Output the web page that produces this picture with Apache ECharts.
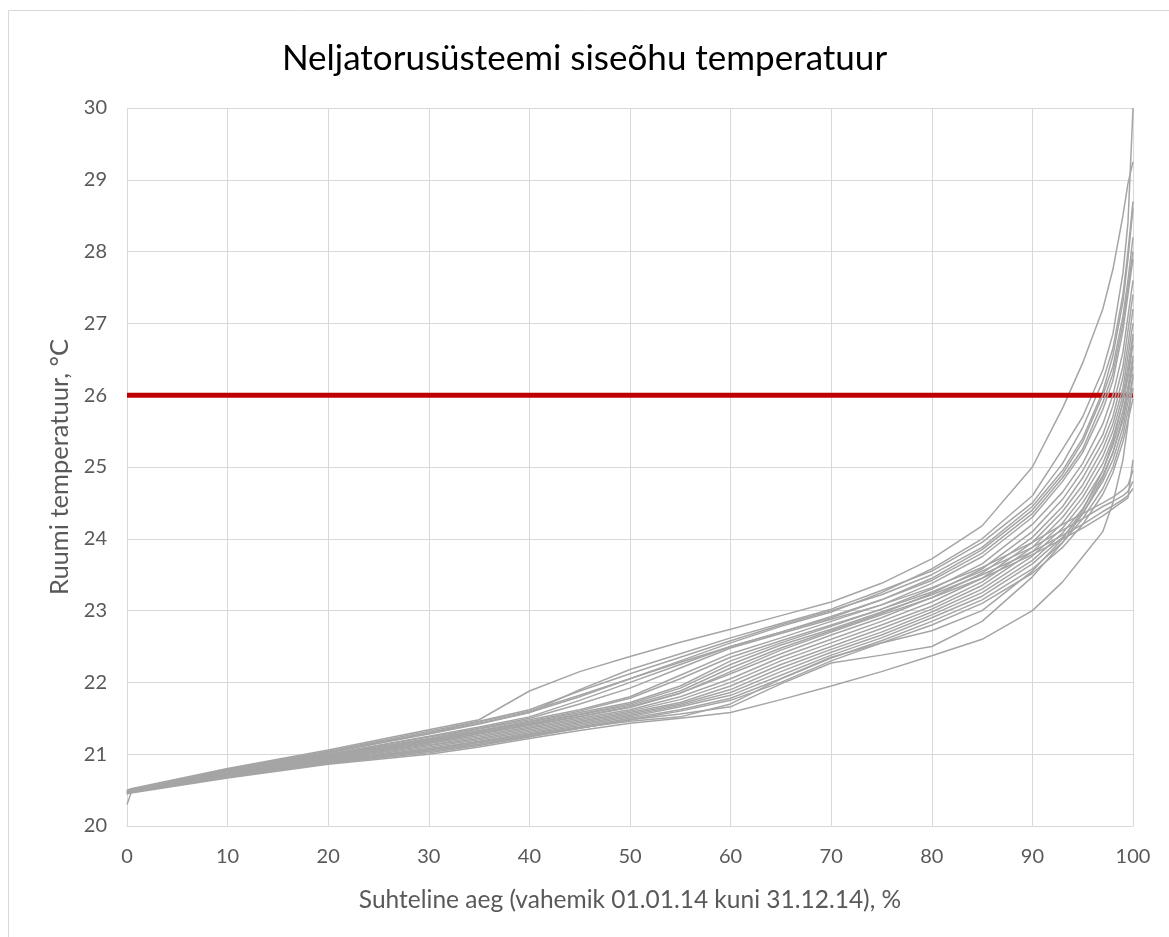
<!DOCTYPE html>
<html>
<head>
<meta charset="utf-8">
<script src="https://cdn.jsdelivr.net/npm/echarts@6/dist/echarts.min.js"></script>
<style>
  html, body { margin: 0; padding: 0; background: #ffffff; }
  #chart { width: 1169px; height: 937px; }
</style>
</head>
<body>
<div id="chart"></div>
<script>
// Relative time, % of the period 01.01.14 – 31.12.14
const xPct = [0, 0.4, 10, 20, 30, 35, 40, 45, 50, 55, 60, 65, 70, 75, 80, 85, 90, 93, 95, 97, 98, 99, 99.5, 100];

// Sorted indoor temperature curves (°C), one per room
const room01 = [20.50,20.52,20.80,21.06,21.34,21.48,21.88,22.15,22.36,22.56,22.74,22.93,23.12,23.38,23.72,24.18,25.00,25.82,26.45,27.20,27.75,28.50,28.95,29.25];
const room02 = [20.49,20.51,20.79,21.03,21.30,21.45,21.60,21.82,22.05,22.30,22.55,22.78,22.98,23.25,23.58,24.00,24.60,25.25,25.70,26.35,26.85,27.70,28.40,30.00];
const room03 = [20.48,20.51,20.78,21.02,21.28,21.42,21.58,21.90,22.18,22.40,22.62,22.82,23.02,23.28,23.55,23.95,24.50,25.05,25.55,26.20,26.65,27.40,28.00,28.70];
const room04 = [20.48,20.50,20.77,21.00,21.25,21.38,21.52,21.75,22.00,22.25,22.50,22.70,22.90,23.15,23.45,23.85,24.40,24.90,25.35,26.00,26.40,27.10,27.60,28.20];
const room05 = [20.47,20.50,20.76,20.99,21.22,21.35,21.48,21.62,21.80,22.10,22.40,22.62,22.85,23.08,23.38,23.75,24.30,24.80,25.20,25.80,26.20,26.90,27.40,27.90];
const room06 = [20.47,20.49,20.75,20.97,21.20,21.32,21.45,21.58,21.72,21.95,22.30,22.55,22.78,23.02,23.30,23.65,24.20,24.65,25.05,25.60,26.00,26.60,27.10,27.60];
const room07 = [20.47,20.49,20.75,20.96,21.18,21.30,21.42,21.55,21.68,21.88,22.20,22.48,22.72,22.96,23.24,23.58,24.10,24.55,24.95,25.45,25.85,26.40,26.90,27.40];
const room08 = [20.46,20.49,20.74,20.95,21.16,21.28,21.40,21.52,21.65,21.85,22.12,22.40,22.66,22.90,23.18,23.52,24.02,24.45,24.85,25.35,25.70,26.25,26.70,27.20];
const room09 = [20.46,20.48,20.74,20.94,21.15,21.26,21.38,21.50,21.62,21.80,22.05,22.35,22.60,22.85,23.12,23.45,23.95,24.38,24.75,25.25,25.60,26.10,26.55,27.00];
const room10 = [20.46,20.48,20.73,20.93,21.13,21.24,21.36,21.48,21.60,21.76,22.00,22.30,22.55,22.80,23.06,23.40,23.88,24.30,24.66,25.15,25.50,26.00,26.40,26.85];
const room11 = [20.46,20.48,20.73,20.92,21.12,21.22,21.34,21.46,21.58,21.72,21.95,22.25,22.50,22.75,23.02,23.35,23.82,24.22,24.58,25.05,25.40,25.90,26.25,26.70];
const room12 = [20.45,20.48,20.72,20.91,21.10,21.20,21.32,21.44,21.56,21.70,21.90,22.20,22.46,22.70,22.98,23.30,23.76,24.15,24.50,24.95,25.30,25.78,26.12,26.55];
const room13 = [20.45,20.47,20.72,20.90,21.08,21.18,21.30,21.42,21.54,21.68,21.86,22.15,22.42,22.66,22.94,23.25,23.70,24.08,24.42,24.88,25.20,25.65,26.00,26.40];
const room14 = [20.45,20.47,20.71,20.90,21.07,21.17,21.28,21.40,21.52,21.66,21.82,22.10,22.38,22.62,22.90,23.20,23.65,24.02,24.35,24.80,25.10,25.55,25.90,26.25];
const room15 = [20.45,20.47,20.71,20.89,21.06,21.16,21.27,21.38,21.50,21.62,21.78,22.05,22.34,22.58,22.85,23.15,23.58,23.95,24.28,24.70,25.00,25.45,25.78,26.10];
const room16 = [20.45,20.47,20.70,20.88,21.04,21.14,21.25,21.36,21.48,21.60,21.75,22.00,22.30,22.55,22.80,23.10,23.52,23.88,24.20,24.62,24.92,25.35,25.65,25.95];
const room17 = [20.48,20.50,20.77,21.00,21.24,21.36,21.50,21.70,21.92,22.20,22.48,22.68,22.88,23.08,23.32,23.60,23.95,24.20,24.35,24.50,24.58,24.68,24.75,24.95];
const room18 = [20.47,20.50,20.76,20.98,21.21,21.33,21.46,21.60,21.78,22.05,22.35,22.58,22.80,23.02,23.26,23.55,23.88,24.12,24.28,24.45,24.52,24.60,24.66,24.80];
const room19 = [20.47,20.49,20.75,20.97,21.19,21.31,21.43,21.56,21.70,21.92,22.25,22.52,22.74,22.98,23.22,23.50,23.82,24.05,24.20,24.38,24.46,24.55,24.60,24.70];
const room20 = [20.46,20.49,20.74,20.95,21.17,21.29,21.41,21.53,21.66,21.85,22.15,22.45,22.70,22.94,23.18,23.45,23.78,24.00,24.15,24.32,24.42,24.52,24.57,25.10];
const room21 = [20.30,20.46,20.67,20.86,21.00,21.10,21.22,21.33,21.43,21.50,21.58,21.76,21.95,22.15,22.37,22.60,23.00,23.40,23.75,24.10,24.50,25.10,25.60,26.30];
const room22 = [20.45,20.47,20.68,20.87,21.02,21.12,21.24,21.36,21.48,21.56,21.66,21.98,22.27,22.38,22.50,22.85,23.47,23.95,24.35,24.85,25.20,25.70,26.05,26.50];
const room23 = [20.46,20.48,20.69,20.88,21.04,21.14,21.26,21.37,21.46,21.52,21.70,22.05,22.35,22.55,22.72,23.00,23.55,24.00,24.40,24.95,25.35,25.90,26.30,26.80];
const room24 = [20.49,20.51,20.79,21.04,21.32,21.46,21.62,21.88,22.12,22.35,22.58,22.80,23.00,23.22,23.50,23.88,24.45,24.95,25.40,26.05,26.55,27.30,27.90,28.60];
const room25 = [20.48,20.51,20.78,21.02,21.29,21.43,21.58,21.80,22.05,22.28,22.50,22.70,22.92,23.15,23.42,23.80,24.35,24.85,25.25,25.90,26.30,27.00,27.50,28.00];

// Upper comfort limit, °C
const limitX = [0, 100];
const limitY = [26, 26];

const xTicks = [0, 10, 20, 30, 40, 50, 60, 70, 80, 90, 100];
const yTicks = [20, 21, 22, 23, 24, 25, 26, 27, 28, 29, 30];

const roomsBelow = [room01, room02, room03, room24];
const roomsAbove = [room04, room05, room06, room07, room08, room09, room10, room11, room12, room13,
  room14, room15, room16, room17, room18, room19, room20, room21, room22, room23, room25];

const FONT = 'Lato, "Open Sans", sans-serif';
const GRID_COLOR = '#d9d9d9';
const TEXT_COLOR = '#595959';

function roomSeries(values, i) {
  return {
    type: 'line',
    name: 'Ruum ' + (i + 1),
    data: xPct.map((x, k) => [x, values[k]]),
    showSymbol: false,
    symbol: 'none',
    silent: true,
    lineStyle: { color: '#a5a5a5', width: 1.5 },
    z: 3
  };
}

const series = [];
roomsBelow.forEach((r, i) => series.push(roomSeries(r, i)));
series.push({
  type: 'line',
  name: '26 °C',
  data: limitX.map((x, k) => [x, limitY[k]]),
  showSymbol: false,
  symbol: 'none',
  silent: true,
  lineStyle: { color: '#c00000', width: 5 },
  z: 3
});
roomsAbove.forEach((r, i) => series.push(roomSeries(r, i + roomsBelow.length)));

const chart = echarts.init(document.getElementById('chart'), null, { renderer: 'canvas' });
chart.setOption({
  animation: false,
  backgroundColor: '#ffffff',
  title: {
    text: 'Neljatorusüsteemi siseõhu temperatuur',
    left: 'center',
    top: 36,
    textStyle: { fontFamily: FONT, fontSize: 35, fontWeight: 'normal', color: '#000000' }
  },
  graphic: [{
    type: 'rect',
    shape: { x: 8.5, y: 10.5, width: 1200, height: 1000 },
    style: { fill: 'none', stroke: GRID_COLOR, lineWidth: 1 },
    silent: true,
    z: 0
  }],
  grid: { left: 127, right: 36, top: 108, bottom: 111, containLabel: false },
  xAxis: {
    type: 'value',
    min: xTicks[0],
    max: xTicks[xTicks.length - 1],
    interval: 10,
    name: 'Suhteline aeg (vahemik 01.01.14 kuni 31.12.14), %',
    nameLocation: 'middle',
    nameGap: 62,
    nameTextStyle: { fontFamily: FONT, fontSize: 24.5, color: TEXT_COLOR },
    axisLine: { show: true, lineStyle: { color: GRID_COLOR, width: 1 } },
    axisTick: { show: false },
    axisLabel: { fontFamily: FONT, fontSize: 20, color: TEXT_COLOR, margin: 21 },
    splitLine: { show: true, lineStyle: { color: GRID_COLOR, width: 1 } }
  },
  yAxis: {
    type: 'value',
    min: yTicks[0],
    max: yTicks[yTicks.length - 1],
    interval: 1,
    name: 'Ruumi temperatuur, °C',
    nameLocation: 'middle',
    nameGap: 52,
    nameTextStyle: { fontFamily: FONT, fontSize: 25.5, color: TEXT_COLOR },
    axisLine: { show: false },
    axisTick: { show: false },
    axisLabel: { fontFamily: FONT, fontSize: 20, color: TEXT_COLOR, margin: 20 },
    splitLine: { show: true, lineStyle: { color: GRID_COLOR, width: 1 } }
  },
  series: series
});
</script>
</body>
</html>
